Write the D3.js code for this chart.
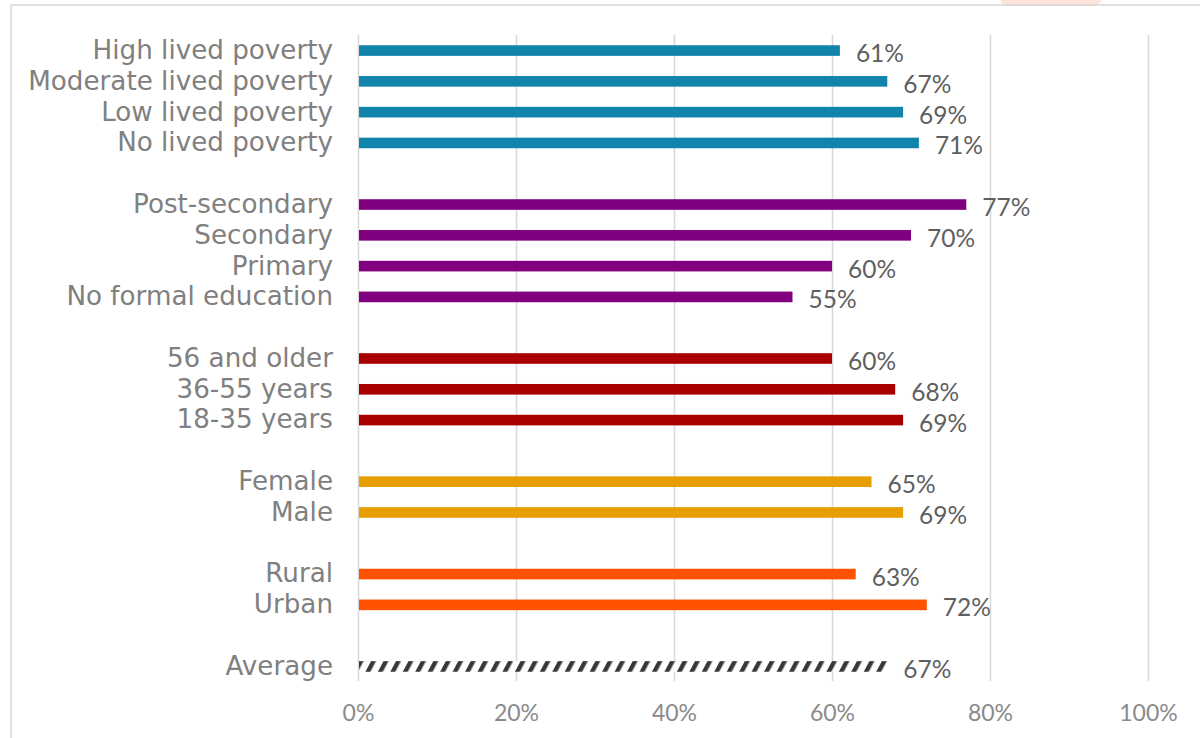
<!DOCTYPE html>
<html>
<head>
<meta charset="utf-8">
<script src="https://cdn.jsdelivr.net/npm/d3@7"></script>
<style>
  html, body { margin: 0; padding: 0; background: #ffffff; }
  svg { display: block; }
</style>
</head>
<body>
<svg id="chart" width="1200" height="738"></svg>
<script>
// Share of respondents, by subgroup (percent)
const povertyLabels = ["High lived poverty", "Moderate lived poverty", "Low lived poverty", "No lived poverty"];
const povertyValues = [61, 67, 69, 71];

const educationLabels = ["Post-secondary", "Secondary", "Primary", "No formal education"];
const educationValues = [77, 70, 60, 55];

const ageLabels = ["56 and older", "36-55 years", "18-35 years"];
const ageValues = [60, 68, 69];

const genderLabels = ["Female", "Male"];
const genderValues = [65, 69];

const locationLabels = ["Rural", "Urban"];
const locationValues = [63, 72];

const averageLabels = ["Average"];
const averageValues = [67];

const tickValues = [0, 20, 40, 60, 80, 100];

const groupColors = ["#1184ac", "#800080", "#a80000", "#e69e00", "#ff5200", null];

// Rows top to bottom, with an empty spacer row between groups
const groups = [
  [povertyLabels, povertyValues],
  [educationLabels, educationValues],
  [ageLabels, ageValues],
  [genderLabels, genderValues],
  [locationLabels, locationValues],
  [averageLabels, averageValues]
];
const rows = [];
groups.forEach(([labels, values], gi) => {
  if (gi > 0) rows.push({ key: "gap" + gi, label: "", value: null, group: gi });
  labels.forEach((lab, i) => rows.push({ key: lab, label: lab, value: values[i], group: gi }));
});

const svg = d3.select("#chart");

// Faint shape peeking in at the top edge
svg.append("path")
  .attr("d", "M1000,0 L1102,0 L1099,4 Q1097,6 1094,6 L1003,6 Z")
  .attr("fill", "#fde3da");

// Outer frame (runs off the right and bottom edges)
svg.append("rect")
  .attr("x", 11).attr("y", 5)
  .attr("width", 1250).attr("height", 800)
  .attr("fill", "none")
  .attr("stroke", "#d9d9d9")
  .attr("stroke-width", 1.6);

const plot = { left: 358, right: 1148, top: 35, bottom: 681 };

const x = d3.scaleLinear().domain([0, 100]).range([plot.left, plot.right]);
const y = d3.scaleBand()
  .domain(rows.map(d => d.key))
  .range([plot.top + 1, plot.bottom])
  .paddingInner(0.655)
  .paddingOuter(0.3);

// Hatch fill for the average bar
const defs = svg.append("defs");
const hatch = defs.append("pattern")
  .attr("id", "hatch")
  .attr("patternUnits", "userSpaceOnUse")
  .attr("width", 11).attr("height", 20)
  .attr("patternTransform", "rotate(28)");
hatch.append("rect").attr("width", 11).attr("height", 20).attr("fill", "#ffffff");
hatch.append("rect").attr("x", 0).attr("width", 4.4).attr("height", 20).attr("fill", "#383838");

// Vertical gridlines and percentage axis
const xAxis = d3.axisBottom(x)
  .tickValues(tickValues)
  .tickFormat(d => d + "%")
  .tickSize(-(plot.bottom - plot.top))
  .tickPadding(24);

const gx = svg.append("g")
  .attr("transform", `translate(0,${plot.bottom})`)
  .call(xAxis);
gx.select(".domain").remove();
gx.selectAll(".tick line")
  .attr("stroke", "#d9d9d9")
  .attr("stroke-width", 1.6);
gx.selectAll(".tick text")
  .attr("fill", "#8a8a8a")
  .style("font-family", "Lato, 'Open Sans', sans-serif")
  .style("font-size", "23px");

// Category labels
const yAxis = d3.axisLeft(y)
  .tickSize(0)
  .tickPadding(25)
  .tickFormat(k => { const r = rows.find(d => d.key === k); return r ? r.label : ""; });

const gy = svg.append("g")
  .attr("transform", `translate(${plot.left},0)`)
  .call(yAxis);
gy.select(".domain").remove();
gy.selectAll(".tick text")
  .attr("fill", "#808080")
  .style("font-family", "'DejaVu Sans', sans-serif")
  .style("font-size", "26.2px");

// Bars
const dataRows = rows.filter(d => d.value !== null);

svg.append("g").selectAll("rect")
  .data(dataRows)
  .join("rect")
  .attr("x", x(0) + 1)
  .attr("y", d => y(d.key))
  .attr("width", d => x(d.value) - x(0) - 1)
  .attr("height", y.bandwidth())
  .attr("fill", d => groupColors[d.group] || "url(#hatch)");

// Value labels
svg.append("g").selectAll("text")
  .data(dataRows)
  .join("text")
  .attr("x", d => x(d.value) + 16)
  .attr("y", d => y(d.key) + y.bandwidth() / 2 + 11.5)
  .attr("fill", "#5f5f5f")
  .style("font-family", "Lato, 'Open Sans', sans-serif")
  .style("font-size", "24.5px")
  .text(d => d.value + "%");
</script>
</body>
</html>
